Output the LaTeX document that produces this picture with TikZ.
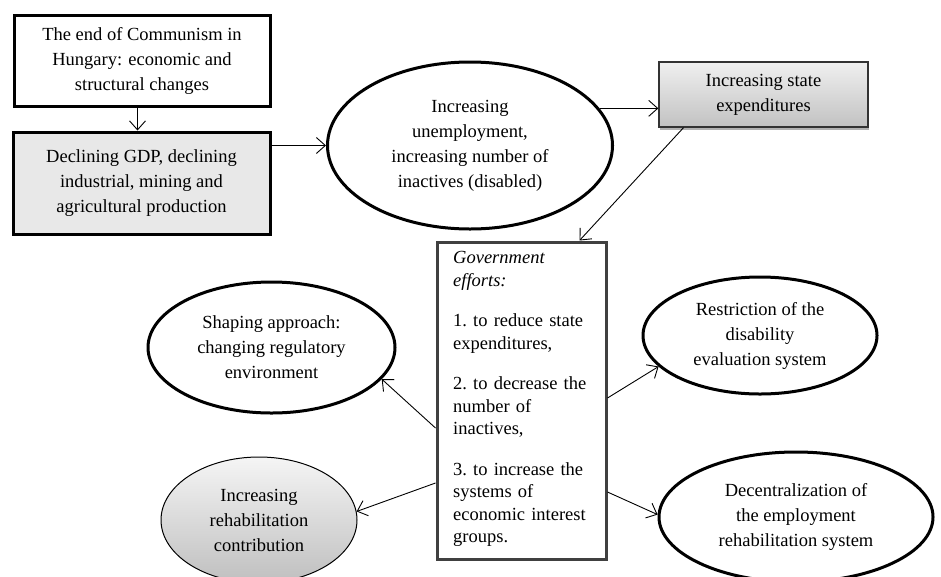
\documentclass[tikz,border=0pt]{standalone}
\usepackage{fontspec}
\setmainfont{Liberation Serif}
\usetikzlibrary{arrows.meta,shapes.geometric,shadows}
\begin{document}
\begin{tikzpicture}[x=1pt,y=-1pt,
  txt/.style={font=\fontsize{18.5}{25}\selectfont, align=center, inner sep=0pt},
  thickbox/.style={txt, draw=black, line width=3pt, rectangle},
  oval/.style={txt, draw=black, line width=3pt, ellipse},
  arr/.style={-{Straight Barb[length=9pt,width=16pt]}, line width=0.9pt}]
\useasboundingbox (0,0) rectangle (941,576);
\clip (0,0) rectangle (941,576);
\fill[white] (0,0) rectangle (941,576);

\node[thickbox, fill=white, minimum width=256pt, minimum height=91pt] (b1) at (142,60.5)
  {The end of Communism in\\Hungary: economic and\\structural changes};
\node[thickbox, fill=gray!18, minimum width=257pt, minimum height=102pt] (b2) at (141.5,183)
  {Declining GDP, declining\\industrial, mining and\\agricultural production};
\node[oval, minimum width=285pt, minimum height=167pt] (e1) at (470,145.5)
  {Increasing\\unemployment,\\increasing number of\\inactives (disabled)};
\node[txt, rectangle, draw=black!80, line width=1.3pt, top color=gray!12, bottom color=gray!48,
  drop shadow={shadow xshift=1pt, shadow yshift=-2.5pt, opacity=0.3, fill=black},
  minimum width=209pt, minimum height=65pt] (b3) at (763.5,94.5)
  {Increasing state\\expenditures};
\node[rectangle, draw=black!75, line width=3pt, minimum width=169pt, minimum height=317pt] (gov) at (521.5,400.5) {};
\node[font=\fontsize{18.5}{22.5}\selectfont, text width=145pt, align=left, inner sep=0pt, anchor=north west] (govtext) at (453,251.5)
  {\textit{Government}\\\textit{efforts:}\\[18pt]1.\ to reduce state\\expenditures,\\[18pt]2.\ to decrease the\\number of\\inactives,\\[18pt]3.\ to increase the\\systems of\\economic interest\\groups.};
\node[oval, minimum width=247pt, minimum height=131pt] (sh) at (271.5,347.5)
  {Shaping approach:\\changing regulatory\\environment};
\node[txt, ellipse, draw=black, line width=1pt, top color=gray!8, bottom color=gray!50,
  minimum width=196pt, minimum height=126pt] (rh) at (259,520)
  {Increasing\\rehabilitation\\contribution};
\node[oval, minimum width=234pt, minimum height=117pt] (rs) at (760,335.5)
  {Restriction of the\\disability\\evaluation system};
\node[oval, minimum width=274pt, minimum height=130pt] (dc) at (796,517)
  {Decentralization of\\the employment\\rehabilitation system};

\draw[arr] ([xshift=-4.5pt]b1.south) -- ([xshift=-4pt]b2.north);
\draw[arr] (b2.east |- e1.west) -- (e1.west);
\draw[arr] (e1.16.7) -- (e1.16.7 -| b3.west);
\draw[arr] ([xshift=-80pt]b3.south) -- ([xshift=58pt]gov.north);
\draw[arr] ([yshift=-27.5pt]gov.west) -- (sh.-16.7);
\draw[arr] ([yshift=-82.5pt]gov.west) -- (rh.5.8);
\draw[arr] ([yshift=2.5pt]gov.east) -- (rs.197);
\draw[arr] ([yshift=-91.5pt]gov.east) -- (dc.179);
\end{tikzpicture}
\end{document}
